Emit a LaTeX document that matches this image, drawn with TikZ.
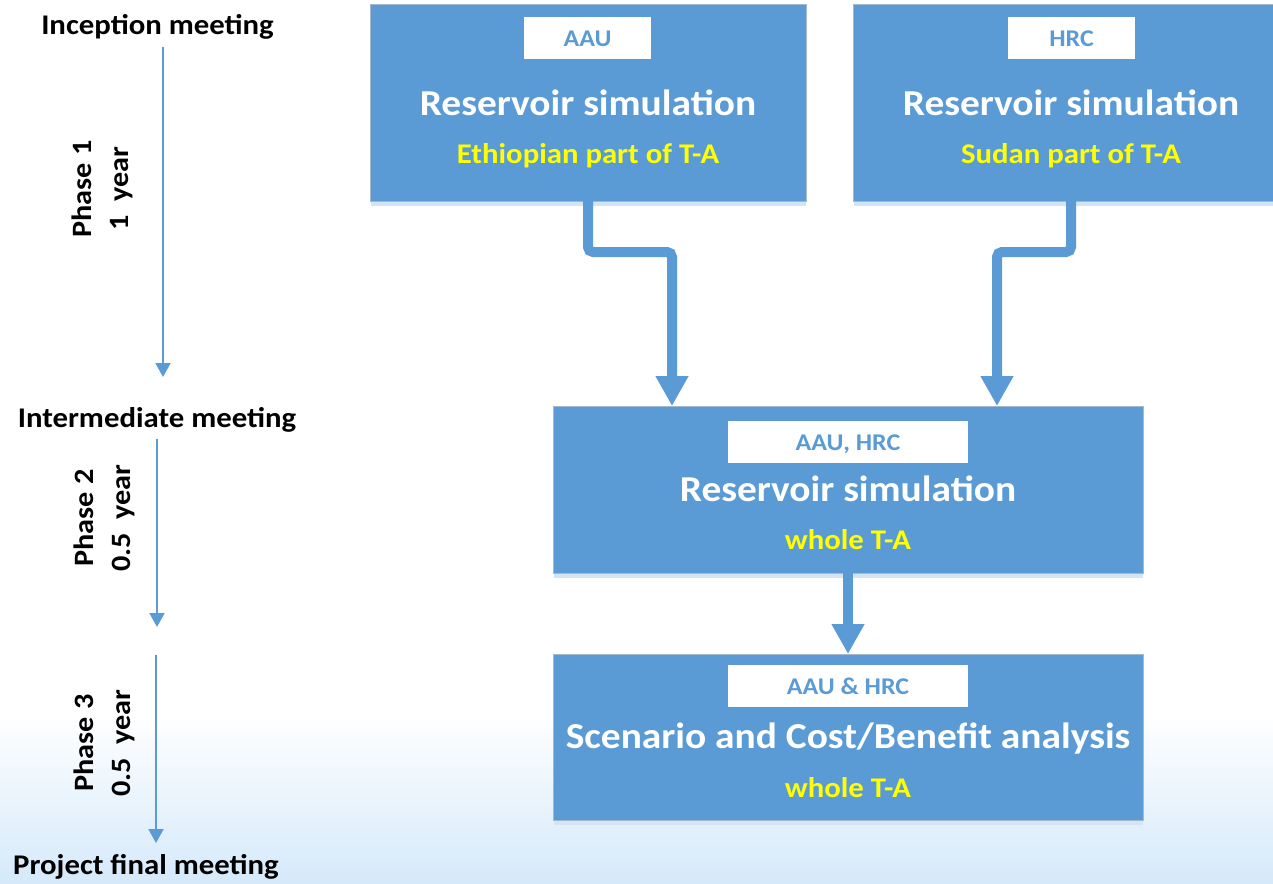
\documentclass[tikz,border=0pt]{standalone}
\usepackage{fontspec}
\setmainfont[FakeStretch=1.08]{Carlito}
\usetikzlibrary{arrows.meta,calc}
\definecolor{boxblue}{HTML}{5B9BD5}
\definecolor{boxedge}{HTML}{A5B8CC}
\definecolor{shadowblue}{HTML}{D3E4F4}
\definecolor{hiyellow}{HTML}{FFFF00}
\definecolor{bgblue}{HTML}{D5E9FA}
\tikzset{
  box/.style={rectangle, fill=boxblue, draw=boxedge, line width=1pt, inner sep=0pt, outer sep=0pt},
  tag/.style={rectangle, fill=white, inner sep=0pt, outer sep=0pt},
  tagtext/.style={text=boxblue, font=\fontsize{24}{28}\selectfont\bfseries, anchor=base, inner sep=0pt},
  titletext/.style={text=white, font=\fontsize{36.5}{40}\selectfont\bfseries, anchor=base, inner sep=0pt},
  subtext/.style={text=hiyellow, font=\fontsize{28.5}{32}\selectfont\bfseries, anchor=base, inner sep=0pt},
  meet/.style={text=black, font=\fontsize{28.5}{32}\selectfont\bfseries, anchor=base, inner sep=0pt},
  phase/.style={text=black, font=\fontsize{28}{37}\selectfont\bfseries, rotate=90, align=center, inner sep=0pt},
  conn/.style={draw=boxblue, line width=10pt, rounded corners=5pt, -{Triangle[width=31pt,length=30pt]}},
  tline/.style={draw=boxblue, line width=2pt, -{Triangle[width=15pt,length=14pt]}},
}
\begin{document}
\begin{tikzpicture}[x=1pt,y=-1pt]
\useasboundingbox (0,0) rectangle (1273,883);
\clip (0,0) rectangle (1273,883);
\fill[white] (0,0) rectangle (1273,883);
\shade[top color=white, bottom color=bgblue] (0,715) rectangle (1273,883);

% shadows
\fill[shadowblue] (371,201) rectangle (806,206);
\fill[shadowblue] (854,201) rectangle (1289,206);
\fill[shadowblue] (554,573) rectangle (1143,578);
\fill[shadowblue] (554,820) rectangle (1143,825);

% boxes
\node[box, minimum width=436pt, minimum height=196pt] (b1) at (588,103) {};
\node[box, minimum width=436pt, minimum height=196pt] (b2) at (1071,103) {};
\node[box, minimum width=590pt, minimum height=167pt] (b3) at (848,489.5) {};
\node[box, minimum width=590pt, minimum height=166pt] (b4) at (848,737) {};

% tags
\node[tag, minimum width=127pt, minimum height=42pt] (t1) at (587.5,38) {};
\node[tag, minimum width=127pt, minimum height=42pt] (t2) at (1071.5,38) {};
\node[tag, minimum width=240pt, minimum height=42pt] (t3) at (848,442) {};
\node[tag, minimum width=240pt, minimum height=42pt] (t4) at (848,686) {};

\node[tagtext] (l1) at (587.5,46) {AAU};
\node[tagtext] (l2) at (1071.5,46) {HRC};
\node[tagtext] (l3) at (848,450) {AAU, HRC};
\node[tagtext] (l4) at (848,694) {AAU \& HRC};

% titles
\node[titletext] (h1) at (588,115) {Reservoir simulation};
\node[titletext] (h2) at (1071,115) {Reservoir simulation};
\node[titletext] (h3) at (848,501) {Reservoir simulation};
\node[titletext] (h4) at (848,748) {Scenario and Cost/Benefit analysis};

\node[subtext] (s1) at (588,163) {Ethiopian part of T-A};
\node[subtext] (s2) at (1071,163) {Sudan part of T-A};
\node[subtext] (s3) at (848,549) {whole T-A};
\node[subtext] (s4) at (848,797) {whole T-A};

% connectors
\coordinate (k1) at (672,252);
\coordinate (k2) at (997,252);
\draw[conn] (b1.south) |- (k1) -- (k1 |- b3.north);
\draw[conn] (b2.south) |- (k2) -- (k2 |- b3.north);
\draw[conn, rounded corners=0pt] (b3.south) -- (b4.north);

% timeline
\node[meet] (m1) at (157.5,35) {Inception meeting};
\node[meet] (m2) at (157,427) {Intermediate meeting};
\node[meet] (m3) at (146,874) {Project final meeting};

\coordinate (a1s) at (163,47);
\coordinate (a1e) at (163,377);
\coordinate (a2s) at (157,439);
\coordinate (a2e) at (157,627);
\coordinate (a3s) at (156,655);
\coordinate (a3e) at (156,843);
\draw[tline] (a1s) -- (a1e);
\draw[tline] (a2s) -- (a2e);
\draw[tline] (a3s) -- (a3e);

\node[phase] (p1) at (102,189) {Phase 1\\1\ \ year};
\node[phase] (p2) at (104,518) {Phase 2\\0.5\ \ year};
\node[phase] (p3) at (104,743) {Phase 3\\0.5\ \ year};
\end{tikzpicture}
\end{document}
